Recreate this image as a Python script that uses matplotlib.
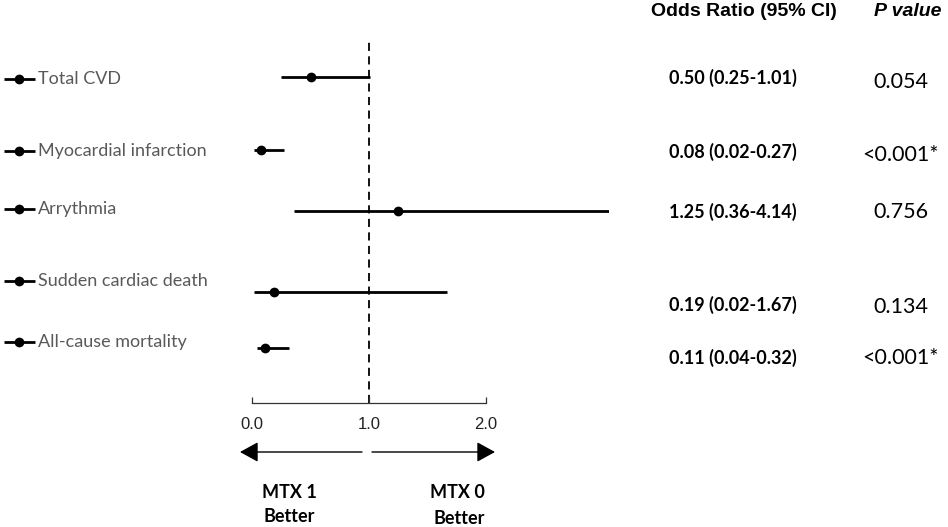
import matplotlib
matplotlib.use("Agg")
import matplotlib.pyplot as plt

# ---- data ----
outcomes = ["Total CVD", "Myocardial infarction", "Arrythmia",
            "Sudden cardiac death", "All-cause mortality"]
odds = [0.50, 0.08, 1.25, 0.19, 0.11]
ci_low = [0.25, 0.02, 0.36, 0.02, 0.04]
ci_high = [1.01, 0.27, 4.14, 1.67, 0.32]
p_values = ["0.054", "<0.001*", "0.756", "0.134", "<0.001*"]
x_ticks = [0.0, 1.0, 2.0]
x_tick_labels = ["0.0", "1.0", "2.0"]

# ---- layout (pixel rows) ----
W, H = 948, 527
row_y = [77, 150, 211, 292, 348]          # marker rows in forest axes
label_y = [79, 151, 209, 281, 342]        # left label rows
or_y = [78, 152, 212, 305, 358]           # odds ratio text rows
p_y = [82, 155, 212, 307, 358]            # p value text rows

fig = plt.figure(figsize=(W / 100, H / 100), dpi=100)

# forest axes: x 0 at px 252, xlim upper at px 609; y from px 40 to 403
ax_left, ax_right = 252, 609
ax_top, ax_bot = 40, 403
ax = fig.add_axes([ax_left / W, 1 - ax_bot / H, (ax_right - ax_left) / W, (ax_bot - ax_top) / H])
ax.set_xlim(0, 3.05)
ax.set_ylim(ax_bot, ax_top)
for s in ["top", "right", "left"]:
    ax.spines[s].set_visible(False)
ax.spines["bottom"].set_bounds(0, 2)
ax.spines["bottom"].set_linewidth(0.9)
ax.spines["bottom"].set_color("#333333")
ax.set_yticks([])
ax.set_xticks(x_ticks)
ax.set_xticklabels(x_tick_labels, fontfamily="Liberation Sans", fontsize=12, color="#222222")
ax.tick_params(axis="x", direction="in", length=4, width=0.9, color="#333333", pad=10)

ax.axvline(1.0, color="black", lw=1.3, ls=(0, (4.5, 3)), zorder=1)

for o, lo, hi, y in zip(odds, ci_low, ci_high, row_y):
    ax.plot([lo, hi], [y, y], color="black", lw=2.0, solid_capstyle="butt", zorder=2)
    ax.plot([o], [y], "o", color="black", ms=6, zorder=3)

# overlay in pixel coordinates
ov = fig.add_axes([0, 0, 1, 1])
ov.set_xlim(0, W)
ov.set_ylim(H, 0)
ov.axis("off")
ov.patch.set_alpha(0)

for name, y in zip(outcomes, label_y):
    ov.plot([4, 35], [y, y], color="black", lw=2.0, solid_capstyle="butt")
    ov.plot([19], [y], "o", color="black", ms=6)
    ov.text(38, y, name, fontfamily="Lato", fontsize=13, color="#595959", va="center", ha="left")

ov.text(744, 12, "Odds Ratio (95% CI)", fontfamily="Liberation Sans", fontweight="bold",
        fontsize=14, ha="center", va="center", color="black")
ov.text(908, 12, "P value", fontfamily="Liberation Sans", fontweight="bold", fontstyle="italic",
        fontsize=14, ha="center", va="center", color="black")

for o, lo, hi, y in zip(odds, ci_low, ci_high, or_y):
    ov.text(733, y, f"{o:.2f} ({lo:.2f}-{hi:.2f})", fontfamily="Lato", fontweight="bold",
            fontsize=13, ha="center", va="center", color="black")
for p, y in zip(p_values, p_y):
    ov.text(901, y, p, fontfamily="Lato", fontsize=15.5, ha="center", va="center", color="black")

# direction arrows
arrow_kw = dict(arrowstyle="-|>,head_length=0.8,head_width=0.44", color="black", lw=1.0,
                mutation_scale=14, shrinkA=0, shrinkB=0)
ov.annotate("", xy=(240, 452), xytext=(362, 452), arrowprops=arrow_kw)
ov.annotate("", xy=(495, 452), xytext=(372, 452), arrowprops=arrow_kw)

ov.text(289, 492, "MTX 1", fontfamily="Lato", fontweight="bold", fontsize=13, ha="center", va="center")
ov.text(289, 517, "Better", fontfamily="Lato", fontweight="bold", fontsize=13, ha="center", va="center")
ov.text(457, 492, "MTX 0", fontfamily="Lato", fontweight="bold", fontsize=13, ha="center", va="center")
ov.text(459, 519, "Better", fontfamily="Lato", fontweight="bold", fontsize=13, ha="center", va="center")

fig.savefig("out.png", dpi=100)
